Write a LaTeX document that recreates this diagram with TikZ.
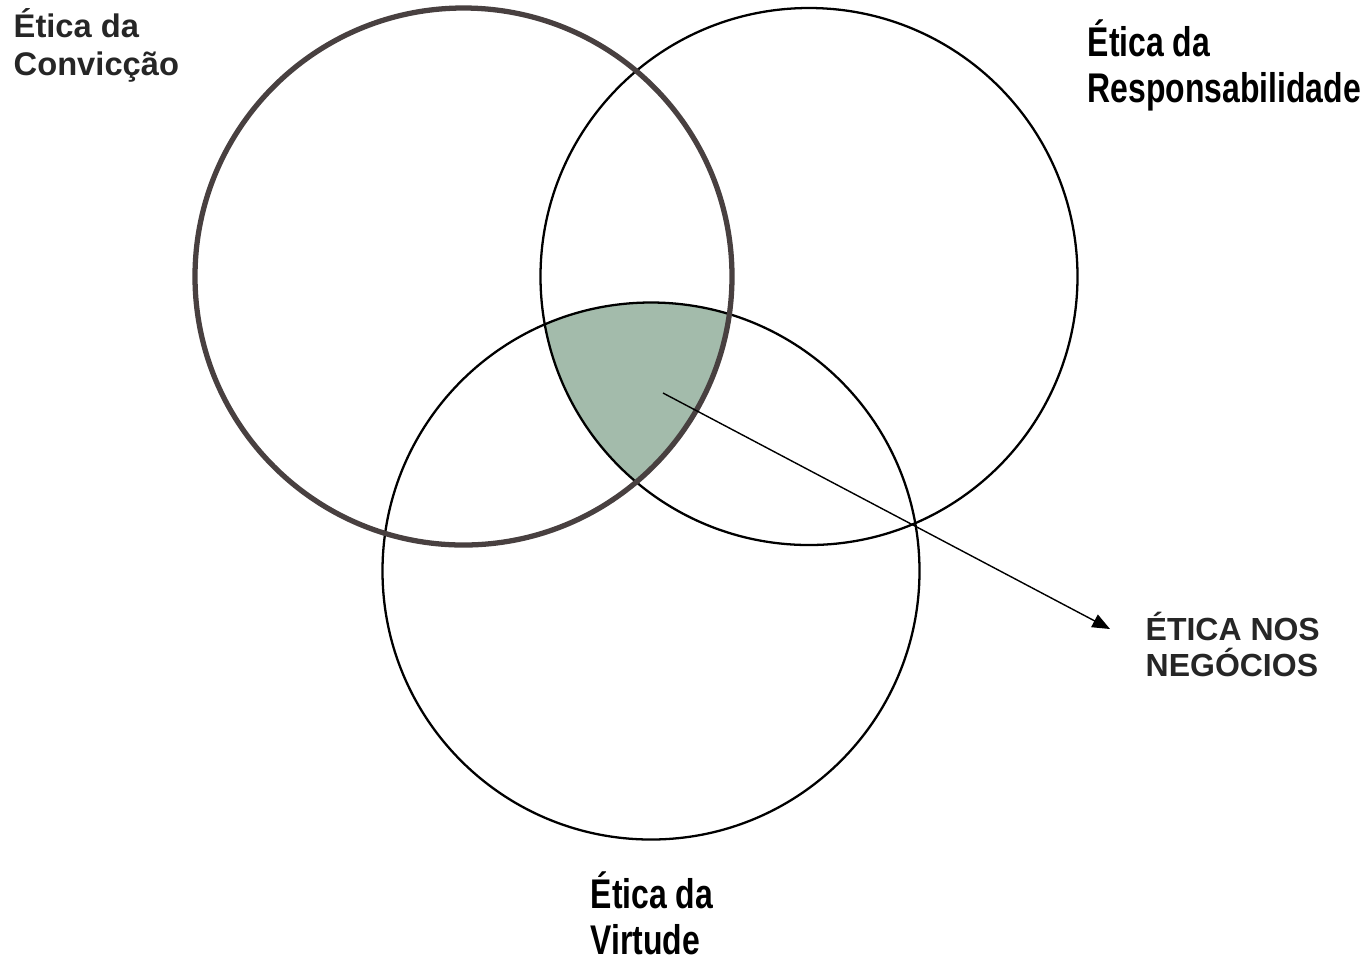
\documentclass[tikz,border=0pt]{standalone}
\usepackage{fontspec}
\setmainfont{Liberation Sans}
\newfontfamily\narrowfont[FakeStretch=0.77]{Liberation Sans}
\usetikzlibrary{arrows.meta}
\definecolor{venngreen}{RGB}{163,187,171}
\definecolor{rimgray}{RGB}{72,64,64}

\begin{document}
\begin{tikzpicture}

\useasboundingbox (0,0) rectangle (13.68,-9.6);

\coordinate (cc) at (4.635,-2.765);

\coordinate (cr) at (8.09,-2.765);

\coordinate (cv) at (6.51,-5.71);

\begin{scope}
\clip (cc) circle (2.685);
\clip (cr) circle (2.685);
\fill[venngreen] (cv) circle (2.685);
\end{scope}

\draw[line width=0.65pt] (cr) circle (2.685);
\draw[line width=0.65pt] (cv) circle (2.685);
\draw[rimgray, line width=1.5pt] (cc) circle (2.685);

\node[anchor=north west, inner sep=0, align=left, font=\fontsize{9.3}{10.7}\bfseries, text=black!85] (conv) at (0.13,-0.08) {Ética da\\Convicção};

\node[anchor=north west, inner sep=0, align=left, font=\narrowfont\fontsize{11.8}{13.1}\bfseries] (resp) at (10.87,-0.19) {Ética da\\Responsabilidade};

\node[anchor=north west, inner sep=0, align=left, font=\narrowfont\fontsize{11.8}{13.1}\bfseries] (virt) at (5.90,-8.71) {Ética da\\Virtude};

\node[anchor=north west, inner sep=0, align=left, font=\fontsize{9.1}{10.4}\bfseries, text=black!85] (neg) at (11.45,-6.11) {ÉTICA NOS\\NEGÓCIOS};

\coordinate (mid) at (6.63,-3.93);
\coordinate (tip) at (11.10,-6.29);

\draw[line width=0.4pt, -{Triangle[length=5pt, width=4pt]}] (mid) -- (tip);

\end{tikzpicture}
\end{document}
